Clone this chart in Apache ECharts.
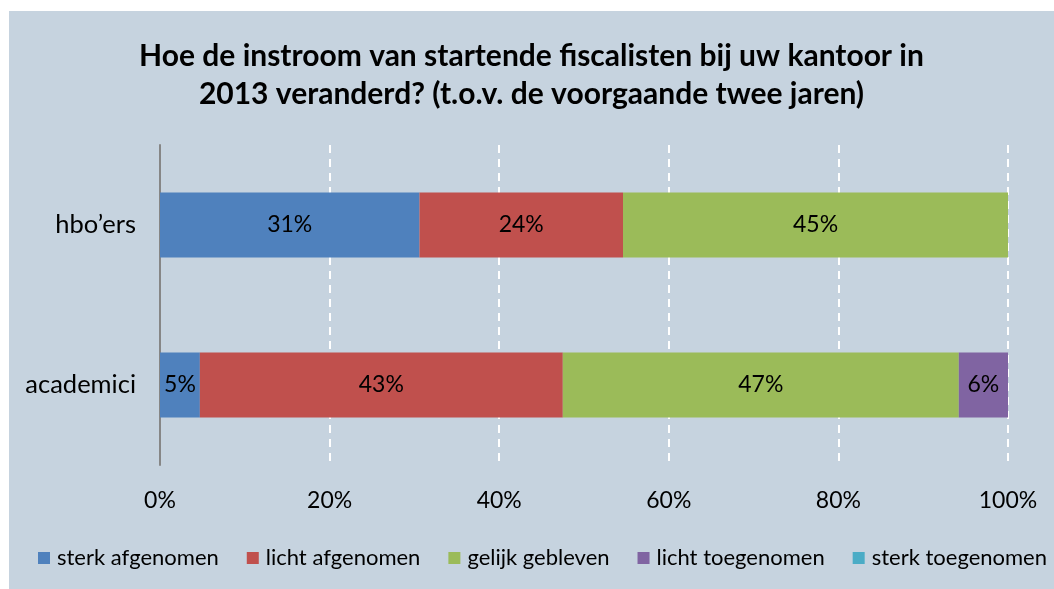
<!DOCTYPE html>
<html>
<head>
<meta charset="utf-8">
<script src="https://cdn.jsdelivr.net/npm/echarts@6/dist/echarts.min.js"></script>
<style>
  html, body { margin: 0; padding: 0; background: #fff; }
  #chart { position: absolute; left: 9px; top: 11px; width: 1045px; height: 578px; }
</style>
</head>
<body>
<div id="chart"></div>
<script>
const CATEGORIES = ["hbo’ers", "academici"];
const SERIES_NAMES = ["sterk afgenomen", "licht afgenomen", "gelijk gebleven", "licht toegenomen", "sterk toegenomen"];
// percentages per category, one array per answer
const STERK_AF = [30.6, 4.7];
const LICHT_AF = [24.0, 42.8];
const GELIJK = [45.4, 46.7];
const LICHT_TOE = [0, 5.8];
const STERK_TOE = [0, 0];
const X_TICKS = [0, 20, 40, 60, 80, 100];

const COLORS = ["#4f81bd", "#c0504d", "#9bbb59", "#8064a2", "#4bacc6"];
const FONT = "Lato, 'Open Sans', sans-serif";

var myChart = echarts.init(document.getElementById("chart"));
var values = [STERK_AF, LICHT_AF, GELIJK, LICHT_TOE, STERK_TOE];

var option = {
  backgroundColor: "#c6d3df",
  color: COLORS,
  title: {
    text: "Hoe de instroom van startende fiscalisten bij uw kantoor in\n2013 veranderd? (t.o.v. de voorgaande twee jaren)",
    left: "center",
    top: 21,
    textStyle: {
      fontFamily: FONT,
      fontWeight: "bold",
      fontSize: 30,
      lineHeight: 38,
      color: "#000",
    },
  },
  legend: {
    bottom: 15,
    left: 24,
    itemWidth: 12,
    itemHeight: 12,
    itemGap: 28,
    icon: "rect",
    textStyle: { fontFamily: FONT, fontSize: 22, color: "#000", padding: [0, 0, 0, 2] },
    data: SERIES_NAMES,
  },
  grid: {
    left: 151,
    right: 46,
    top: 134,
    bottom: 124,
  },
  xAxis: {
    type: "value",
    min: X_TICKS[0],
    max: X_TICKS[X_TICKS.length - 1],
    interval: 20,
    axisLine: { show: false },
    axisTick: { show: false },
    axisLabel: {
      margin: 24,
      fontFamily: FONT,
      fontSize: 23,
      color: "#000",
      formatter: function (v) { return v + "%"; },
    },
    splitLine: {
      show: true,
      lineStyle: { color: "#ffffff", type: [8, 6], width: 2 },
    },
  },
  yAxis: {
    type: "category",
    data: CATEGORIES,
    inverse: true,
    axisLine: { show: true, lineStyle: { color: "#868686", width: 2 } },
    axisTick: { show: false },
    axisLabel: {
      margin: 24,
      fontFamily: FONT,
      fontSize: 25.5,
      color: "#000",
    },
  },
  series: SERIES_NAMES.map(function (name, i) {
    return {
      name: name,
      type: "bar",
      stack: "total",
      barWidth: 65,
      data: values[i],
      label: {
        show: true,
        position: "inside",
        fontFamily: FONT,
        fontSize: 23,
        color: "#000",
        formatter: function (p) {
          return p.value > 0 ? Math.round(p.value) + "%" : "";
        },
      },
    };
  }),
};

option && myChart.setOption(option);
</script>
</body>
</html>
